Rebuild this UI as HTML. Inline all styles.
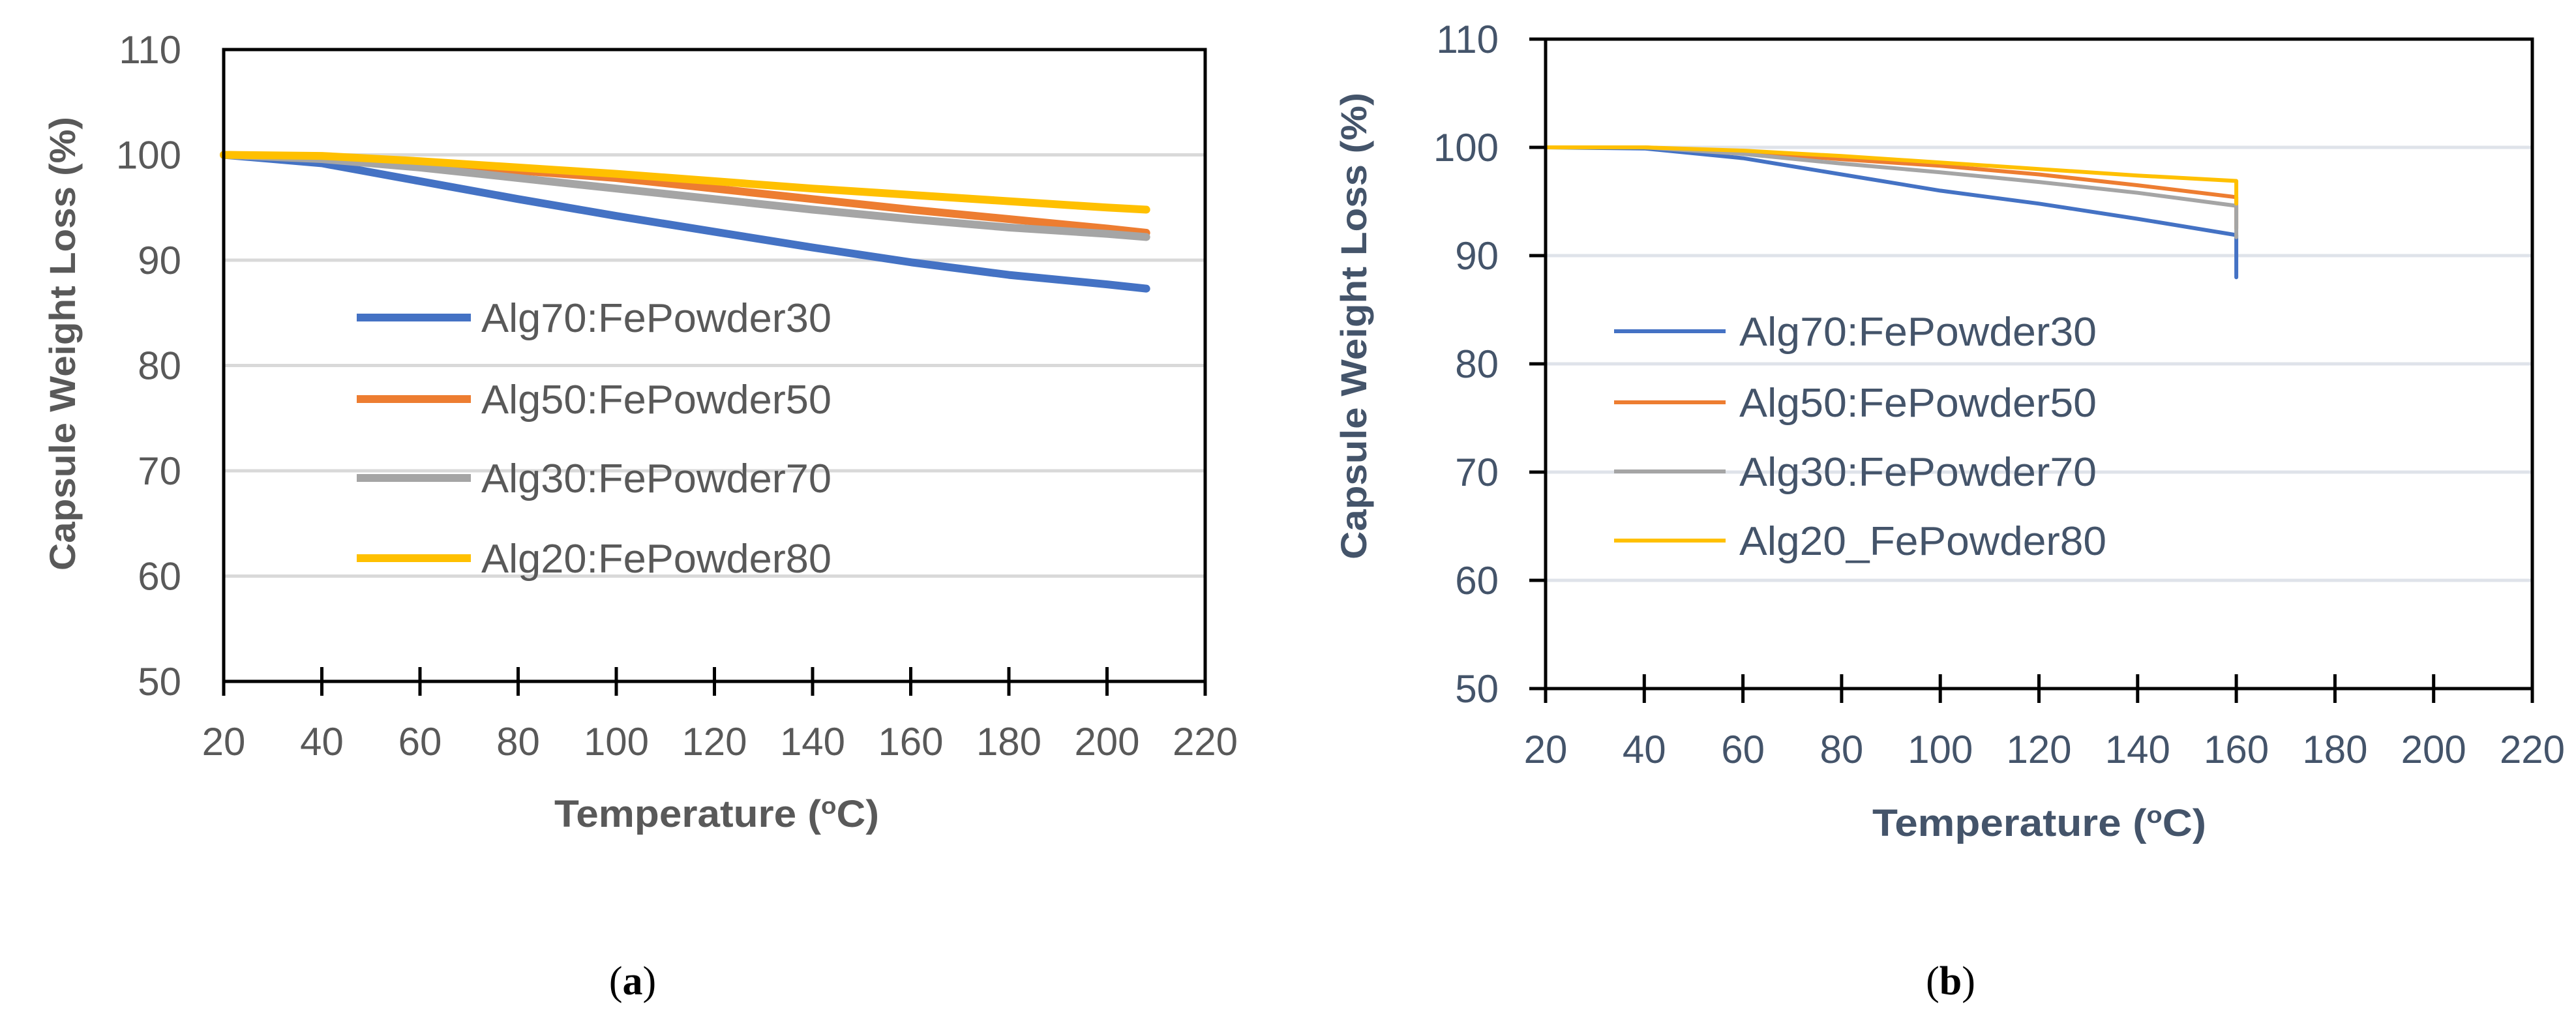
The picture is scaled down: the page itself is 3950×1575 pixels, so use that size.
<!DOCTYPE html>
<html><head><meta charset="utf-8"><style>
html,body{margin:0;padding:0;background:#fff;}
svg{display:block;}
</style></head><body>
<svg id="fig" width="3950" height="1575" viewBox="0 0 3950 1575" xmlns="http://www.w3.org/2000/svg"></svg>
<script>
// ---- Panel (a) data ----
const xA = [20,40,60,80,100,120,140,160,180,200,208];
const a_alg70 = [100,99.2,97.5,95.8,94.2,92.7,91.2,89.8,88.6,87.7,87.3];
const a_alg50 = [100,99.8,99.2,98.5,97.8,96.8,95.8,94.8,93.9,93.0,92.6];
const a_alg30 = [100,99.6,98.8,97.8,96.8,95.8,94.8,93.9,93.1,92.5,92.2];
const a_alg20 = [100,99.9,99.4,98.8,98.2,97.5,96.8,96.2,95.6,95.0,94.8];
// ---- Panel (b) data ----
const xB = [20,40,60,80,100,120,140,160,160];
const b_alg70 = [100,99.9,99.0,97.5,96.0,94.8,93.4,91.9,88.0];
const b_alg50 = [100,100,99.6,98.9,98.3,97.5,96.5,95.4,92.5];
const b_alg30 = [100,100,99.4,98.5,97.7,96.8,95.8,94.6,91.7];
const b_alg20 = [100,100,99.7,99.2,98.6,98.0,97.4,96.9,94.8];
const xTicks = [20,40,60,80,100,120,140,160,180,200,220];
const yTicks = [50,60,70,80,90,100,110];
const namesA = ["Alg70:FePowder30","Alg50:FePowder50","Alg30:FePowder70","Alg20:FePowder80"];
const namesB = ["Alg70:FePowder30","Alg50:FePowder50","Alg30:FePowder70","Alg20_FePowder80"];
const colors = ["#4472c4","#ed7d31","#a5a5a5","#ffc000"];

const NS="http://www.w3.org/2000/svg";
const svg=document.getElementById('fig');
function mk(tag,attrs,parent,text){const e=document.createElementNS(NS,tag);for(const k in attrs)e.setAttribute(k,attrs[k]);if(text!==undefined)e.textContent=text;(parent||svg).appendChild(e);return e;}
const FONT='"Liberation Sans",sans-serif';

function panel(cfg){
  const g=mk('g',{});
  
  
  const sx=v=>cfg.L+(v-20)/200*(cfg.R-cfg.L);
  const sy=v=>cfg.B-(v-50)/60*(cfg.B-cfg.T);
  yTicks.forEach(v=>{ if(v>50&&v<110){
    const l=mk('line',{x1:cfg.L,x2:cfg.R,y1:sy(v),y2:sy(v),stroke:cfg.grid,'stroke-width':5},g);
    
    
  }});
  cfg.series.forEach((s,i)=>{
    const pts=s.map((v,j)=>sx(cfg.xs[j]).toFixed(1)+','+sy(v).toFixed(1)).join(' ');
    const p=mk('polyline',{points:pts,fill:'none',stroke:colors[i],'stroke-width':cfg.lw,'stroke-linejoin':'round','stroke-linecap':'round'},g);
    
    
  });
  const f=mk('rect',{x:cfg.L,y:cfg.T,width:cfg.R-cfg.L,height:cfg.B-cfg.T,fill:'none',stroke:'#000','stroke-width':5},g);
  
  
  xTicks.forEach(v=>{
    const t=mk('line',{x1:sx(v),x2:sx(v),y1:cfg.B-22,y2:cfg.B+22,stroke:'#000','stroke-width':5},g);
    
    
    const lb=mk('text',{x:sx(v),y:cfg.xLabY,'text-anchor':'middle','font-family':FONT,'font-size':60,fill:cfg.txt},g,String(v));
    
    
  });
  yTicks.forEach(v=>{
    if(cfg.yTickMarks){
      const t=mk('line',{x1:cfg.L-25,x2:cfg.L,y1:sy(v),y2:sy(v),stroke:'#000','stroke-width':5},g);
      
      
    }
    const lb=mk('text',{x:cfg.yLabX,y:sy(v)+21,'text-anchor':'end','font-family':FONT,'font-size':60,fill:cfg.txt},g,String(v));
    
    
  });
  const yt=mk('text',{x:0,y:0,transform:`translate(${cfg.yTitleX},${cfg.yTitleY}) rotate(-90)`,'text-anchor':'middle','font-family':FONT,'font-weight':'bold','font-size':56,fill:cfg.txt,textLength:cfg.yTitleLen,lengthAdjust:'spacingAndGlyphs'},g,'Capsule Weight Loss (%)');
  
  
  const xt=mk('text',{x:cfg.xTitleX,y:cfg.xTitleY,'text-anchor':'middle','font-family':FONT,'font-weight':'bold','font-size':58,fill:cfg.txt,textLength:cfg.xTitleLen,lengthAdjust:'spacingAndGlyphs'},g);
  
  
  xt.appendChild(document.createTextNode('Temperature ('));
  mk('tspan',{'font-size':36,dy:-20},xt,'o');
  mk('tspan',{dy:20},xt,'C)');
  cfg.legY.forEach((y,i)=>{
    const l=mk('line',{x1:cfg.legX1,x2:cfg.legX2,y1:y,y2:y,stroke:colors[i],'stroke-width':cfg.legLw},g);
    
    
    const t=mk('text',{x:cfg.legTX,y:y+22,'font-family':FONT,'font-size':62,fill:cfg.txt,textLength:cfg.legLen[i],lengthAdjust:'spacingAndGlyphs'},g,cfg.names[i]);
    
    
  });
}

panel({name:'chart-a',L:343,R:1848,T:76,B:1045,grid:'#d9d9d9',lw:12,xs:xA,series:[a_alg70,a_alg50,a_alg30,a_alg20],names:namesA,
  txt:'#595959',xLabY:1158,yLabX:278,yTickMarks:false,yTitleX:115,yTitleY:527,yTitleLen:696,xTitleX:1099,xTitleY:1268,xTitleLen:498,
  legY:[487,612,733,856],legX1:547,legX2:722,legTX:738,legLw:12,legLen:[537,537,537,537]});
panel({name:'chart-b',L:2370,R:3883,T:60,B:1056,grid:'#dfe3ea',lw:6,xs:xB,series:[b_alg70,b_alg50,b_alg30,b_alg20],names:namesB,
  txt:'#44546a',xLabY:1170,yLabX:2298,yTickMarks:true,yTitleX:2095,yTitleY:500,yTitleLen:716,xTitleX:3127,xTitleY:1282,xTitleLen:512,
  legY:[508,617,723,829],legX1:2475,legX2:2646,legTX:2667,legLw:6,legLen:[548,548,548,563]});

const ca=mk('text',{x:970,y:1525,'text-anchor':'middle','font-family':'"Liberation Serif",serif','font-size':62,fill:'#000'});
ca.appendChild(document.createTextNode('('));mk('tspan',{'font-weight':'bold'},ca,'a');ca.appendChild(document.createTextNode(')'));


const cb=mk('text',{x:2991,y:1525,'text-anchor':'middle','font-family':'"Liberation Serif",serif','font-size':62,fill:'#000'});
cb.appendChild(document.createTextNode('('));mk('tspan',{'font-weight':'bold'},cb,'b');cb.appendChild(document.createTextNode(')'));


</script>
</body></html>
